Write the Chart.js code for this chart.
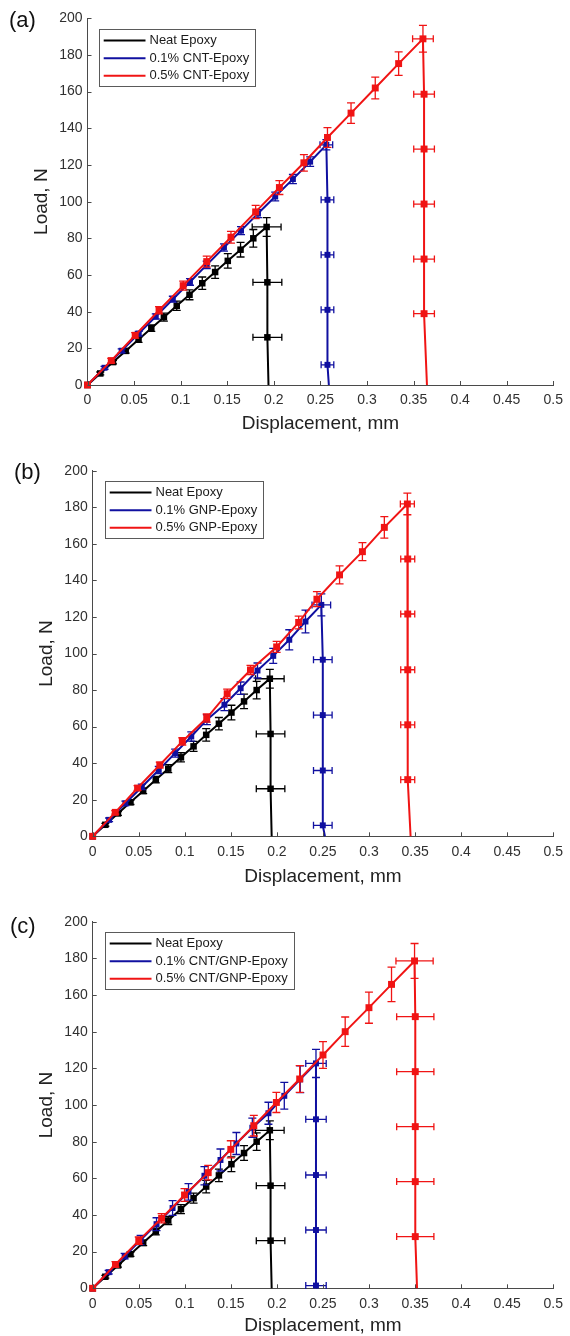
<!DOCTYPE html>
<html lang="en">
<head>
<meta charset="UTF-8" />
<title>Load vs Displacement</title>
<script src="https://cdn.jsdelivr.net/npm/chart.js"></script>
<style>
  body { margin: 0; background: #fff; font-family: "Liberation Sans", Arial, sans-serif; }
  .page { position: relative; width: 570px; height: 1336px; overflow: hidden; }
  .panel { position: absolute; left: 0; }
  .tag { position: absolute; font-size: 22px; line-height: 1; color: #111; }
</style>
</head>
<body>
<div class="page">
  <canvas id="chartA" class="panel" width="570" height="440" style="top:0px"></canvas>
  <canvas id="chartB" class="panel" width="570" height="450" style="top:440px"></canvas>
  <canvas id="chartC" class="panel" width="570" height="456" style="top:880px"></canvas>
  <div class="tag" style="left:9px;top:9px">(a)</div>
  <div class="tag" style="left:14px;top:461px">(b)</div>
  <div class="tag" style="left:10px;top:915px">(c)</div>
</div>

<script>
// axis ticks
const xTickValues = [0, 0.05, 0.1, 0.15, 0.2, 0.25, 0.3, 0.35, 0.4, 0.45, 0.5];
const xTickLabels = ['0', '0.05', '0.1', '0.15', '0.2', '0.25', '0.3', '0.35', '0.4', '0.45', '0.5'];
const yTickValues = [0, 20, 40, 60, 80, 100, 120, 140, 160, 180, 200];

// neat epoxy (same curve in all three panels)
const neatX = [0, 0.0137, 0.0274, 0.041, 0.0548, 0.0685, 0.082, 0.0958, 0.1095, 0.1232, 0.137, 0.1506, 0.1643, 0.178, 0.1923, 0.1931, 0.1931, 0.1943];
const neatY = [0, 6.3, 12.5, 18.6, 24.8, 31, 37, 43.2, 49.2, 55.5, 61.6, 67.7, 73.8, 80, 86.2, 56, 26, 0];
const neatYErr = [0, 0.8, 1, 1.2, 1.5, 1.8, 2.2, 2.5, 2.7, 3.4, 3.4, 4, 4, 4.8, 5.1, 0, 0, 0];
const neatXErr = [0, 0, 0, 0, 0, 0, 0, 0, 0, 0, 0, 0, 0, 0, 0.0155, 0.0155, 0.0155, 0];

// (a) CNT
const cnt1X = [0, 0.0183, 0.0367, 0.055, 0.0733, 0.0916, 0.11, 0.128, 0.1465, 0.1648, 0.183, 0.2015, 0.2205, 0.239, 0.2564, 0.2576, 0.2576, 0.2576, 0.2576, 0.2591];
const cnt1Y = [0, 9.4, 18.7, 28, 37.4, 46.8, 56.2, 65.5, 75, 84.2, 93.5, 102.8, 112.3, 121.8, 131, 101, 71, 41, 11, 0];
const cnt1YErr = [0, 0.8, 1, 1.2, 1.4, 1.6, 1.8, 2, 2, 2.2, 2.2, 2.4, 2.5, 2.6, 2.8, 0, 0, 0, 0, 0];
const cnt1XErr = [0, 0, 0, 0, 0, 0, 0, 0, 0, 0, 0, 0, 0, 0, 0.0068, 0.0068, 0.0068, 0.0068, 0.0068, 0];

const cnt5X = [0, 0.0255, 0.0512, 0.0768, 0.1027, 0.128, 0.154, 0.1805, 0.206, 0.2323, 0.2576, 0.2829, 0.3089, 0.334, 0.3601, 0.3613, 0.3613, 0.3613, 0.3613, 0.3613, 0.3644];
const cnt5Y = [0, 13.3, 27.1, 40.8, 54.2, 67.3, 80.6, 94.4, 107.7, 121.2, 135, 148.3, 162, 175.3, 188.8, 158.6, 128.7, 98.7, 68.7, 38.9, 0];
const cnt5YErr = [0, 1.2, 1.5, 2, 2.5, 3, 3.2, 3.6, 3.8, 4.5, 5.4, 5.6, 5.9, 6.4, 7.3, 0, 0, 0, 0, 0, 0];
const cnt5XErr = [0, 0, 0, 0, 0, 0, 0, 0, 0, 0, 0, 0, 0, 0, 0.0111, 0.0111, 0.0111, 0.0111, 0.0111, 0.0111, 0];

// (b) GNP
const gnp1X = [0, 0.0178, 0.0355, 0.0533, 0.0717, 0.0895, 0.107, 0.124, 0.143, 0.1606, 0.1789, 0.196, 0.2134, 0.231, 0.2482, 0.2498, 0.2498, 0.2498, 0.2498, 0.2521];
const gnp1Y = [0, 9, 18, 27, 36.3, 45.5, 54.6, 63.8, 72, 81, 90.7, 98.7, 107.5, 117.5, 126.6, 96.6, 66.3, 36, 6, 0];
const gnp1YErr = [0, 1, 1.2, 1.5, 2, 2.2, 2.5, 2.7, 3.3, 3.4, 4.1, 4.1, 5.5, 6.2, 6, 0, 0, 0, 0, 0];
const gnp1XErr = [0, 0, 0, 0, 0, 0, 0, 0, 0, 0, 0, 0, 0, 0, 0.0101, 0.0101, 0.0101, 0.0101, 0.0101, 0];

const gnp5X = [0, 0.0245, 0.0487, 0.0728, 0.0973, 0.1238, 0.146, 0.1713, 0.1997, 0.2236, 0.2434, 0.268, 0.2928, 0.3166, 0.3416, 0.342, 0.342, 0.342, 0.342, 0.342, 0.3451];
const gnp5Y = [0, 13.1, 26.4, 39, 51.9, 64.7, 78, 91, 103.6, 117, 129.7, 143, 155.7, 169, 181.8, 151.7, 121.6, 91.1, 61, 31, 0];
const gnp5YErr = [0, 1, 1.3, 1.6, 2, 2.2, 2.5, 2.5, 3, 3.5, 4.1, 4.9, 4.9, 5.9, 5.9, 0, 0, 0, 0, 0, 0];
const gnp5XErr = [0, 0, 0, 0, 0, 0, 0, 0, 0, 0, 0, 0, 0, 0, 0.0076, 0.0076, 0.0076, 0.0076, 0.0076, 0.0076, 0];

// (c) CNT/GNP
const hyb1X = [0, 0.0173, 0.0347, 0.052, 0.0693, 0.0867, 0.104, 0.1213, 0.1387, 0.156, 0.1733, 0.1908, 0.208, 0.2253, 0.2424, 0.2424, 0.2424, 0.2424, 0.2424, 0.244];
const hyb1Y = [0, 8.8, 17.5, 26.3, 35, 43.8, 52.6, 61.4, 70, 79, 87.6, 95.5, 105, 114, 122.7, 92.2, 61.8, 31.8, 1.5, 0];
const hyb1YErr = [0, 1, 1.5, 2.5, 3.5, 4, 4.5, 5, 6, 6, 5.2, 6, 7.3, 7.3, 7.7, 0, 0, 0, 0, 0];
const hyb1XErr = [0, 0, 0, 0, 0, 0, 0, 0, 0, 0, 0, 0, 0, 0, 0.0111, 0.0111, 0.0111, 0.0111, 0.0111, 0];

const hyb5X = [0, 0.0247, 0.05, 0.0748, 0.0997, 0.1254, 0.1499, 0.1749, 0.1994, 0.2247, 0.25, 0.2741, 0.2999, 0.3244, 0.3494, 0.3502, 0.3502, 0.3502, 0.3502, 0.3502, 0.3521];
const hyb5Y = [0, 13, 26, 38.2, 50.9, 63.1, 75.8, 88.7, 101.4, 114.2, 127.3, 140, 153.1, 165.8, 178.6, 148.2, 118.2, 88.2, 58.2, 28.2, 0];
const hyb5YErr = [0, 1.5, 2, 2.5, 3.5, 4, 4.7, 5.6, 5.5, 7.3, 7.3, 8, 8.5, 9.4, 9.5, 0, 0, 0, 0, 0, 0];
const hyb5XErr = [0, 0, 0, 0, 0, 0, 0, 0, 0, 0, 0, 0, 0, 0, 0.0202, 0.0202, 0.0202, 0.0202, 0.0202, 0.0202, 0];

const legendA = ['Neat Epoxy', '0.1% CNT-Epoxy', '0.5% CNT-Epoxy'];
const legendB = ['Neat Epoxy', '0.1% GNP-Epoxy', '0.5% GNP-Epoxy'];
const legendC = ['Neat Epoxy', '0.1% CNT/GNP-Epoxy', '0.5% CNT/GNP-Epoxy'];

const BLACK = '#000000', BLUE = '#1010a0', RED = '#f01414';
const AXIS = '#4a4a4a', TEXT = '#303030';
const FONT = '"Liberation Sans", Arial, sans-serif';

// error bars, drawn right after each dataset
const errorBars = {
  id: 'errorBars',
  afterDatasetDraw(chart, args) {
    const ds = chart.data.datasets[args.index];
    const xs = chart.scales.x, ys = chart.scales.y;
    const ctx = chart.ctx;
    ctx.save();
    ctx.strokeStyle = ds.borderColor;
    ctx.lineWidth = 1.3;
    ds.data.forEach((p, i) => {
      const px = xs.getPixelForValue(p.x), py = ys.getPixelForValue(p.y);
      const ey = ds.errY[i], ex = ds.errX[i];
      ctx.beginPath();
      if (ey > 0) {
        const t = ys.getPixelForValue(p.y + ey), b = ys.getPixelForValue(p.y - ey);
        ctx.moveTo(px, t); ctx.lineTo(px, b);
        ctx.moveTo(px - 4, t); ctx.lineTo(px + 4, t);
        ctx.moveTo(px - 4, b); ctx.lineTo(px + 4, b);
      }
      if (ex > 0) {
        const l = xs.getPixelForValue(p.x - ex), r = xs.getPixelForValue(p.x + ex);
        ctx.moveTo(l, py); ctx.lineTo(r, py);
        ctx.moveTo(l, py - 3.5); ctx.lineTo(l, py + 3.5);
        ctx.moveTo(r, py - 3.5); ctx.lineTo(r, py + 3.5);
      }
      ctx.stroke();
    });
    ctx.restore();
  }
};

// inward tick marks like matlab
const innerTicks = {
  id: 'innerTicks',
  afterDraw(chart) {
    const {ctx, chartArea} = chart;
    const xs = chart.scales.x, ys = chart.scales.y;
    ctx.save();
    ctx.strokeStyle = AXIS;
    ctx.lineWidth = 1;
    ctx.beginPath();
    xTickValues.forEach(v => {
      const px = Math.round(xs.getPixelForValue(v)) + 0.5;
      ctx.moveTo(px, chartArea.bottom); ctx.lineTo(px, chartArea.bottom - 4);
    });
    yTickValues.forEach(v => {
      const py = Math.round(ys.getPixelForValue(v)) + 0.5;
      ctx.moveTo(chartArea.left, py); ctx.lineTo(chartArea.left + 4, py);
    });
    ctx.stroke();
    ctx.restore();
  }
};

const boxLegend = {
  id: 'boxLegend',
  afterDraw(chart, args, opts) {
    const {ctx, chartArea} = chart;
    const bx = Math.round(chartArea.left + opts.dx), by = Math.round(chartArea.top + opts.dy);
    ctx.save();
    ctx.font = '13px ' + FONT;
    const tw = Math.max(...opts.labels.map(t => ctx.measureText(t).width));
    const bw = Math.round(opts.textDx + tw + 6);
    ctx.fillStyle = '#fff';
    ctx.fillRect(bx, by, bw, opts.height);
    ctx.strokeStyle = '#5a5a5a';
    ctx.lineWidth = 1;
    ctx.strokeRect(bx + 0.5, by + 0.5, bw, opts.height);
    opts.labels.forEach((t, i) => {
      const y = by + opts.rows[i];
      ctx.strokeStyle = opts.colors[i];
      ctx.lineWidth = 2;
      ctx.beginPath();
      ctx.moveTo(bx + opts.line[0], y);
      ctx.lineTo(bx + opts.line[1], y);
      ctx.stroke();
      ctx.fillStyle = '#1a1a1a';
      ctx.textBaseline = 'middle';
      ctx.fillText(t, bx + opts.textDx, y);
    });
    ctx.restore();
  }
};

function series(label, xs, ys, ex, ey, color, r, order) {
  const n = xs.length;
  return {
    label,
    data: xs.map((x, i) => ({ x, y: ys[i] })),
    errX: ex,
    errY: ey,
    borderColor: color,
    backgroundColor: color,
    borderWidth: 2,
    showLine: true,
    tension: 0,
    pointStyle: 'rect',
    pointRadius: c => (c.dataIndex === n - 1 ? 0 : r),
    pointBorderWidth: 0,
    clip: false,
    order
  };
}

function makePanel(id, sets, labels, g) {
  new Chart(document.getElementById(id), {
    type: 'scatter',
    data: { datasets: sets },
    options: {
      responsive: false,
      animation: false,
      devicePixelRatio: 1,
      layout: { padding: { top: g.top, right: g.right, bottom: 0, left: 0 } },
      plugins: {
        legend: { display: false },
        tooltip: { enabled: false },
        boxLegend: {
          labels,
          colors: [BLACK, BLUE, RED],
          dx: g.legDx, dy: 10.5, textDx: 50.5, line: [4.7, 46.5],
          rows: [11.5, 29.2, 46.8], height: 57
        }
      },
      scales: {
        x: {
          type: 'linear', min: 0, max: 0.5,
          afterBuildTicks: s => { s.ticks = xTickValues.map(v => ({ value: v })); },
          afterFit: s => { s.height = g.xH; },
          grid: { display: false, drawTicks: false, tickLength: 0 },
          border: { display: true, color: AXIS, width: 1 },
          ticks: {
            padding: 7, color: TEXT, font: { family: FONT, size: 14 }, maxRotation: 0,
            callback: (v, i) => xTickLabels[i]
          },
          title: {
            display: true, text: 'Displacement, mm', color: '#222',
            font: { family: FONT, size: 19, lineHeight: 1 },
            padding: { top: 0, bottom: g.xTitlePad }
          }
        },
        y: {
          type: 'linear', min: 0, max: 200,
          afterBuildTicks: s => { s.ticks = yTickValues.map(v => ({ value: v })); },
          afterFit: s => { s.width = g.yW; },
          grid: { display: false, drawTicks: false, tickLength: 0 },
          border: { display: true, color: AXIS, width: 1 },
          ticks: { padding: 5, color: TEXT, font: { family: FONT, size: 14 } },
          title: {
            display: true, text: 'Load, N', color: '#222',
            font: { family: FONT, size: 19, lineHeight: 1 },
            padding: { top: g.yTitlePad, bottom: 0 }
          }
        }
      }
    },
    plugins: [errorBars, innerTicks, boxLegend]
  });
}

makePanel('chartA', [
  series('Neat Epoxy', neatX, neatY, neatXErr, neatYErr, BLACK, 4.6, 2),
  series(legendA[1], cnt1X, cnt1Y, cnt1XErr, cnt1YErr, BLUE, 4.2, 1),
  series(legendA[2], cnt5X, cnt5Y, cnt5XErr, cnt5YErr, RED, 4.9, 0)
], legendA, { top: 18.3, right: 15, yW: 87.5, xH: 55, xTitlePad: 6.5, yTitlePad: 32.3, legDx: 11 });

makePanel('chartB', [
  series('Neat Epoxy', neatX, neatY, neatXErr, neatYErr, BLACK, 4.6, 2),
  series(legendB[1], gnp1X, gnp1Y, gnp1XErr, gnp1YErr, BLUE, 4.2, 1),
  series(legendB[2], gnp5X, gnp5Y, gnp5XErr, gnp5YErr, RED, 4.9, 0)
], legendB, { top: 30.7, right: 10, yW: 92.7, xH: 53.7, xTitlePad: 3.8, yTitlePad: 37.5, legDx: 12 });

makePanel('chartC', [
  series('Neat Epoxy', neatX, neatY, neatXErr, neatYErr, BLACK, 4.6, 2),
  series(legendC[1], hyb1X, hyb1Y, hyb1XErr, hyb1YErr, BLUE, 4.2, 1),
  series(legendC[2], hyb5X, hyb5Y, hyb5XErr, hyb5YErr, RED, 4.9, 0)
], legendC, { top: 41.7, right: 10, yW: 92.7, xH: 47.7, xTitlePad: 0.5, yTitlePad: 37.5, legDx: 12 });
</script>
</body>
</html>
